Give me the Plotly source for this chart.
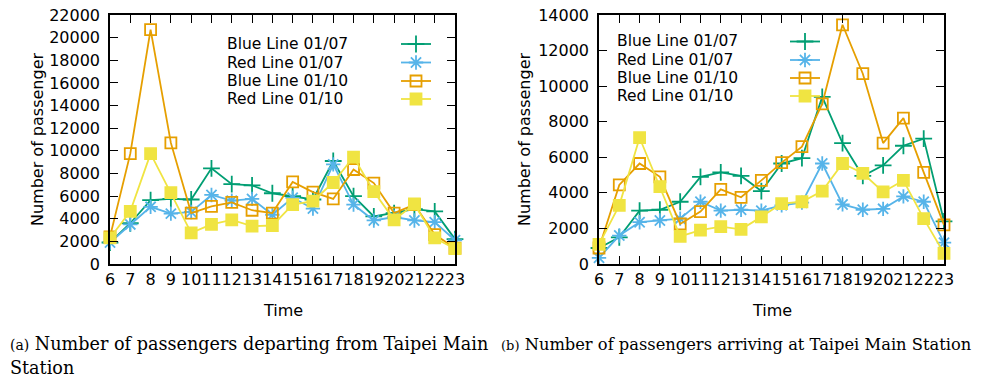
import plotly.graph_objects as go

# target canvas is 985x380; the page body margin is removed in a post script,
# so the figure fills the page and layout positions are given in page pixels.
PAGE_W, PAGE_H, OFF = 985, 380, 0
W, H = PAGE_W - OFF, PAGE_H - OFF

hours = list(range(6, 24))
series_names = ["Blue Line 01/07", "Red Line 01/07", "Blue Line 01/10", "Red Line 01/10"]

# (a) departing from Taipei Main Station
dep_blue_0107 = [1900, 3600, 5650, 5750, 5700, 8450, 7050, 6950, 6250, 6000, 5700, 9100, 6000, 4200, 4500, 4850, 4650, 2200]
dep_red_0107 = [1900, 3500, 5050, 4450, 4600, 6100, 5600, 5750, 4350, 5850, 4900, 8800, 5250, 3850, 4150, 3850, 3700, 2100]
dep_blue_0110 = [2400, 9750, 20700, 10700, 4500, 5100, 5450, 4750, 4500, 7250, 6350, 5750, 8350, 7150, 4500, 5250, 2600, 1400]
dep_red_0110 = [2300, 4650, 9750, 6300, 2750, 3500, 3900, 3350, 3400, 5250, 5550, 7200, 9450, 6400, 3900, 5300, 2300, 1350]

# (b) arriving at Taipei Main Station
arr_blue_0107 = [900, 1500, 3000, 3050, 3500, 4900, 5150, 4950, 4100, 5650, 5950, 9400, 6800, 4950, 5550, 6650, 7050, 2400]
arr_red_0107 = [350, 1600, 2350, 2450, 2550, 3500, 3000, 3050, 3000, 3300, 3450, 5650, 3350, 3050, 3100, 3800, 3500, 1200]
arr_blue_0110 = [900, 4450, 5650, 4900, 2250, 2950, 4200, 3750, 4700, 5700, 6600, 9000, 13450, 10700, 6800, 8200, 5150, 2200]
arr_red_0110 = [1100, 3300, 7100, 4350, 1550, 1900, 2100, 1950, 2650, 3400, 3500, 4100, 5650, 5100, 4050, 4700, 2550, 600]

y_max_a, y_max_b = 22000, 14000
y_dtick = 2000
x_title = "Time"
y_title = "Number of passenger"
caption_a1 = "<span style='font-size:14px'>(a)</span> Number of passengers departing from Taipei Main"
caption_a2 = "Station"
caption_b = "<span style='font-size:13px'>(b)</span> Number of passengers arriving at Taipei Main Station"

colors = ["#009e73", "#56b4e9", "#e69f00", "#f0e442"]
symbols = ["cross-thin-open", "asterisk-open", "square-open", "square"]
msizes = [12, 12, 11, 11]

SANS = "DejaVu Sans"
SERIF = "DejaVu Serif"


def px(x):
    return (x - OFF) / W


def py(y):
    return 1 - (y - OFF) / H


def marker(i):
    return dict(symbol=symbols[i], size=msizes[i], color=colors[i],
                line=dict(color=colors[i], width=1.8))


fig = go.Figure()

panels = [
    dict(xa="x", ya="y", data=[dep_blue_0107, dep_red_0107, dep_blue_0110, dep_red_0110]),
    dict(xa="x2", ya="y2", data=[arr_blue_0107, arr_red_0107, arr_blue_0110, arr_red_0110]),
]
for p in panels:
    for i, vals in enumerate(p["data"]):
        fig.add_trace(go.Scatter(
            x=hours, y=vals, mode="lines+markers", name=series_names[i],
            line=dict(color=colors[i], width=1.8), marker=marker(i),
            xaxis=p["xa"], yaxis=p["ya"], cliponaxis=False, showlegend=False))

# gnuplot-style keys (text left, sample right) on a pixel overlay axis
keys = [
    dict(tx=225, lx0=401, lx1=431, rows=[44, 62.5, 81, 99]),
    dict(tx=615, lx0=790, lx1=820, rows=[41.5, 60, 78, 96]),
]
annotations = []
for k in keys:
    for i, name in enumerate(series_names):
        yy = k["rows"][i]
        fig.add_trace(go.Scatter(
            x=[k["lx0"], k["lx1"]], y=[yy, yy], mode="lines",
            line=dict(color=colors[i], width=1.8), xaxis="x3", yaxis="y3",
            showlegend=False, hoverinfo="skip"))
        fig.add_trace(go.Scatter(
            x=[(k["lx0"] + k["lx1"]) / 2], y=[yy], mode="markers",
            marker=marker(i), xaxis="x3", yaxis="y3",
            showlegend=False, hoverinfo="skip", cliponaxis=False))
        annotations.append(dict(
            x=px(k["tx"]), y=py(yy), xref="paper", yref="paper", text=name,
            showarrow=False, xanchor="left", yanchor="middle",
            font=dict(family=SANS, size=15.5, color="black")))

# axis titles
for cx in [(110 + 455) / 2, (599 + 944) / 2]:
    annotations.append(dict(x=px(cx), y=py(310), xref="paper", yref="paper", text=x_title,
                            showarrow=False, xanchor="center", yanchor="middle",
                            font=dict(family=SANS, size=16, color="black")))
for cx in [37, 524]:
    annotations.append(dict(x=px(cx), y=py(140), xref="paper", yref="paper", text=y_title,
                            showarrow=False, xanchor="center", yanchor="middle", textangle=-90,
                            font=dict(family=SANS, size=16, color="black")))

# captions
annotations.append(dict(x=px(8), y=py(344), xref="paper", yref="paper", text=caption_a1,
                        showarrow=False, xanchor="left", yanchor="middle",
                        font=dict(family=SERIF, size=17.6, color="black")))
annotations.append(dict(x=px(8), y=py(368), xref="paper", yref="paper", text=caption_a2,
                        showarrow=False, xanchor="left", yanchor="middle",
                        font=dict(family=SERIF, size=17.6, color="black")))
annotations.append(dict(x=px(499), y=py(344), xref="paper", yref="paper", text=caption_b,
                        showarrow=False, xanchor="left", yanchor="middle",
                        font=dict(family=SERIF, size=16.3, color="black")))

common_x = dict(range=[6, 23], tickmode="linear", tick0=6, dtick=1, ticks="inside", ticklen=8,
                tickwidth=1, tickcolor="black", showline=True, linecolor="black", linewidth=1.5,
                mirror="ticks", showgrid=False, zeroline=False, tickangle=0, automargin=False,
                ticklabeloverflow="allow",
                tickfont=dict(family=SANS, size=16, color="black"))
common_y = dict(tickmode="linear", tick0=0, dtick=y_dtick, ticks="inside", ticklen=8,
                tickwidth=1, tickcolor="black", showline=True, linecolor="black", linewidth=1.5,
                mirror="ticks", showgrid=False, zeroline=False, automargin=False,
                tickformat="d", separatethousands=False, exponentformat="none",
                ticklabelstandoff=5, ticklabeloverflow="allow",
                tickfont=dict(family=SANS, size=16, color="black"))

ydom = [py(264), py(15)]
fig.update_layout(
    template="none",
    width=W, height=H, margin=dict(l=0, r=0, t=0, b=0, pad=0, autoexpand=False), autosize=False,
    paper_bgcolor="white", plot_bgcolor="rgba(0,0,0,0)", showlegend=False,
    hovermode=False,
    xaxis=dict(common_x, domain=[px(110), px(455)], anchor="y"),
    yaxis=dict(common_y, domain=ydom, range=[0, y_max_a], anchor="x"),
    xaxis2=dict(common_x, domain=[px(599), px(944)], anchor="y2"),
    yaxis2=dict(common_y, domain=ydom, range=[0, y_max_b], anchor="x2"),
    xaxis3=dict(domain=[0, 1], range=[OFF, PAGE_W], visible=False, anchor="y3", fixedrange=True,
                automargin=False),
    yaxis3=dict(domain=[0, 1], range=[PAGE_H, OFF], visible=False, anchor="x3", fixedrange=True,
                automargin=False),
    annotations=annotations,
)

fig.write_html("out.html", config={"displayModeBar": False},
               post_script="document.body.style.margin='0';document.body.style.overflow='hidden';")
